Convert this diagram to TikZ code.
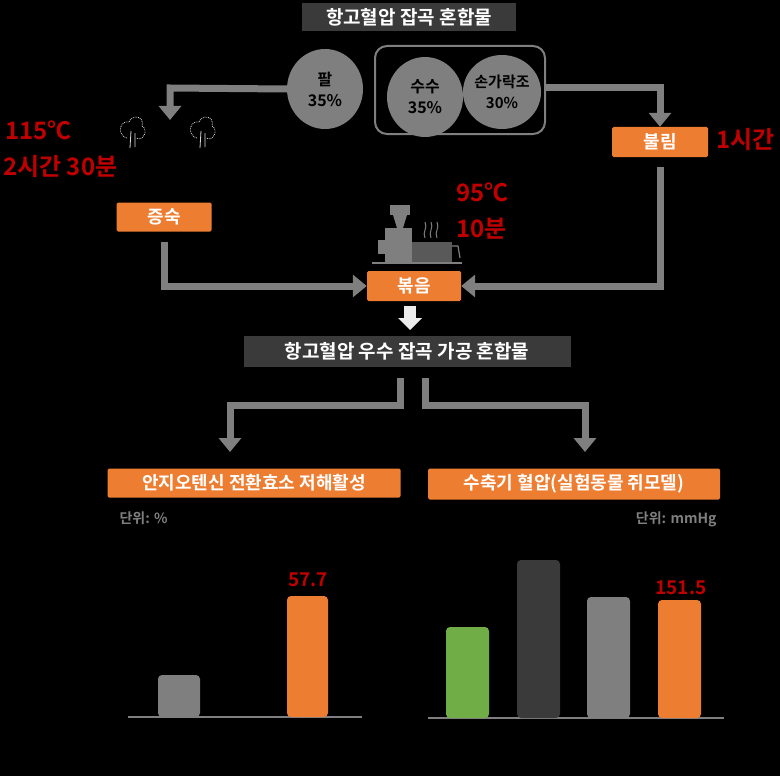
\documentclass[tikz,border=0pt]{standalone}
\usepackage{fontspec}
\setmainfont{Noto Sans CJK KR}[BoldFont={Noto Sans CJK KR Bold}]
\usetikzlibrary{arrows.meta,shapes.geometric}
\definecolor{og}{HTML}{ED7D31}
\definecolor{dk}{HTML}{3A3A3A}
\definecolor{gr}{HTML}{7F7F7F}
\definecolor{rd}{HTML}{C00000}
\definecolor{gn}{HTML}{70AD47}
\begin{document}
\begin{tikzpicture}[x=1pt,y=-1pt,
  obox/.style={fill=og,text=white,font=\bfseries\fontsize{18}{18}\selectfont,inner sep=0,rounded corners=1.5},
  dbox/.style={fill=dk,text=white,font=\bfseries\fontsize{19}{19}\selectfont,inner sep=0},
  circ/.style={ellipse,fill=gr,inner sep=0,align=center,font=\bfseries\fontsize{16}{21}\selectfont,text=black},
  red/.style={text=rd,font=\bfseries\fontsize{24}{24}\selectfont,inner sep=0},
  flow/.style={draw=gr,line width=7,-{Triangle[length=14,width=22]}},
  bar/.style={rounded corners=4}]
\fill[black] (0,0) rectangle (780,776);
\node[dbox,minimum width=214,minimum height=28] (t1) at (409,17) {항고혈압 잡곡 혼합물};
\node[circ,minimum width=76,minimum height=80] (c1) at (325,89) {팔\\35\%};
\draw[gr,line width=2,rounded corners=12] (375,46) rectangle (545,134);
\node[circ,minimum width=76,minimum height=80] (c2) at (425,97) {수수\\35\%};
\node[circ,minimum width=68,minimum height=74,font=\bfseries\fontsize{15}{21}\selectfont] (c3) at (502,92) {손가락조\\30\%};
\node[obox,minimum width=96,minimum height=30] (b1) at (660,142) {불림};
\node[red,anchor=west] (r1) at (716,140) {1시간};
\node[red,anchor=west] (r2) at (5,130) {115℃};
\node[red,anchor=west] (r3) at (3,167) {2시간 30분};
\node[obox,minimum width=95,minimum height=29] (b2) at (164,217) {증숙};
\node[obox,minimum width=94,minimum height=30] (b3) at (414,286) {볶음};
\node[red,anchor=west] (r4) at (456,192) {95℃};
\node[red,anchor=west] (r5) at (456,229) {10분};
\node[dbox,minimum width=327,minimum height=31] (t2) at (407,351) {항고혈압 우수 잡곡 가공 혼합물};
\node[obox,minimum width=293,minimum height=29] (h1) at (254,483) {안지오텐신 전환효소 저해활성};
\node[obox,minimum width=292,minimum height=31] (h2) at (574,484) {수축기 혈압(실험동물 쥐모델)};
\node[text=gr,font=\bfseries\fontsize{14}{14}\selectfont,anchor=west] (u1) at (116,518) {단위: \%};
\node[text=gr,font=\bfseries\fontsize{14}{14}\selectfont,anchor=east] (u2) at (720,519) {단위: mmHg};
% flow arrows
\coordinate (a1) at (170,88); \coordinate (a2) at (660,88);
\draw[flow] (c1.west) -- (a1) -- (170,120);
\draw[flow] (545,88) -- (a2) -- (b1.north);
\draw[flow,shorten <=10] (b2.south) |- (b3.west);
\draw[flow,shorten <=10] (b1.south) |- (b3.east);
% small down arrow
\fill[white!85!gr] (404,306) rectangle (416,318);
\fill[white!85!gr] (398,318) -- (422,318) -- (410,330) -- cycle;
\coordinate (s1) at (400,405); \coordinate (s2) at (425,405);
\draw[flow] (400,378) -- (s1) -- (230,405) -- (230,452);
\draw[flow] (425,378) -- (s2) -- (585,405) -- (585,452);
% steam icons
\foreach \cx in {133,203}{
 \draw[white!70!gr,densely dotted,line width=0.8] (\cx-6,138) .. controls (\cx-16,136) and (\cx-14,120) .. (\cx-4,122) .. controls (\cx-1,114) and (\cx+12,116) .. (\cx+9,126) .. controls (\cx+16,130) and (\cx+10,142) .. (\cx+3,138);
 \draw[white!70!gr,line width=0.8] (\cx-2,131) -- (\cx-3,148) (\cx+2,133) -- (\cx+2,147);
}
% roaster machine
\fill[gr] (390,205) rectangle (410,215);
\fill[gr] (393,215) -- (407,215) -- (403,228) -- (397,228) -- cycle;
\fill[gr] (385,228) rectangle (412,262);
\fill[gr] (378,240) rectangle (385,254);
\fill[gr!70!black] (412,242) rectangle (452,262);
\draw[gr,line width=1.2] (452,246) -- (458,246) -- (460,258);
\foreach \sx in {425,431,437}\draw[gr,line width=1] (\sx,238) .. controls (\sx-3,232) and (\sx+3,228) .. (\sx,222);
\draw[gr,line width=1.5] (372,263) -- (462,263);
% bars
\draw[gr,line width=2] (128,717) -- (362,717);
\fill[gr,bar] (158,717) |- (200,675) -- (200,717) -- cycle;
\fill[og,bar] (287,717) |- (328,596) -- (328,717) -- cycle;
\node[text=rd,font=\bfseries\fontsize{19}{19}\selectfont] (v1) at (308,580) {57.7};
\draw[gr,line width=2] (428,718) -- (724,718);
\fill[gn,bar] (446,718) |- (489,627) -- (489,718) -- cycle;
\fill[dk,bar] (517,718) |- (560,560) -- (560,718) -- cycle;
\fill[gr,bar] (587,718) |- (630,597) -- (630,718) -- cycle;
\fill[og,bar] (658,718) |- (701,600) -- (701,718) -- cycle;
\node[text=rd,font=\bfseries\fontsize{19}{19}\selectfont] (v2) at (681,588) {151.5};
\end{tikzpicture}
\end{document}
